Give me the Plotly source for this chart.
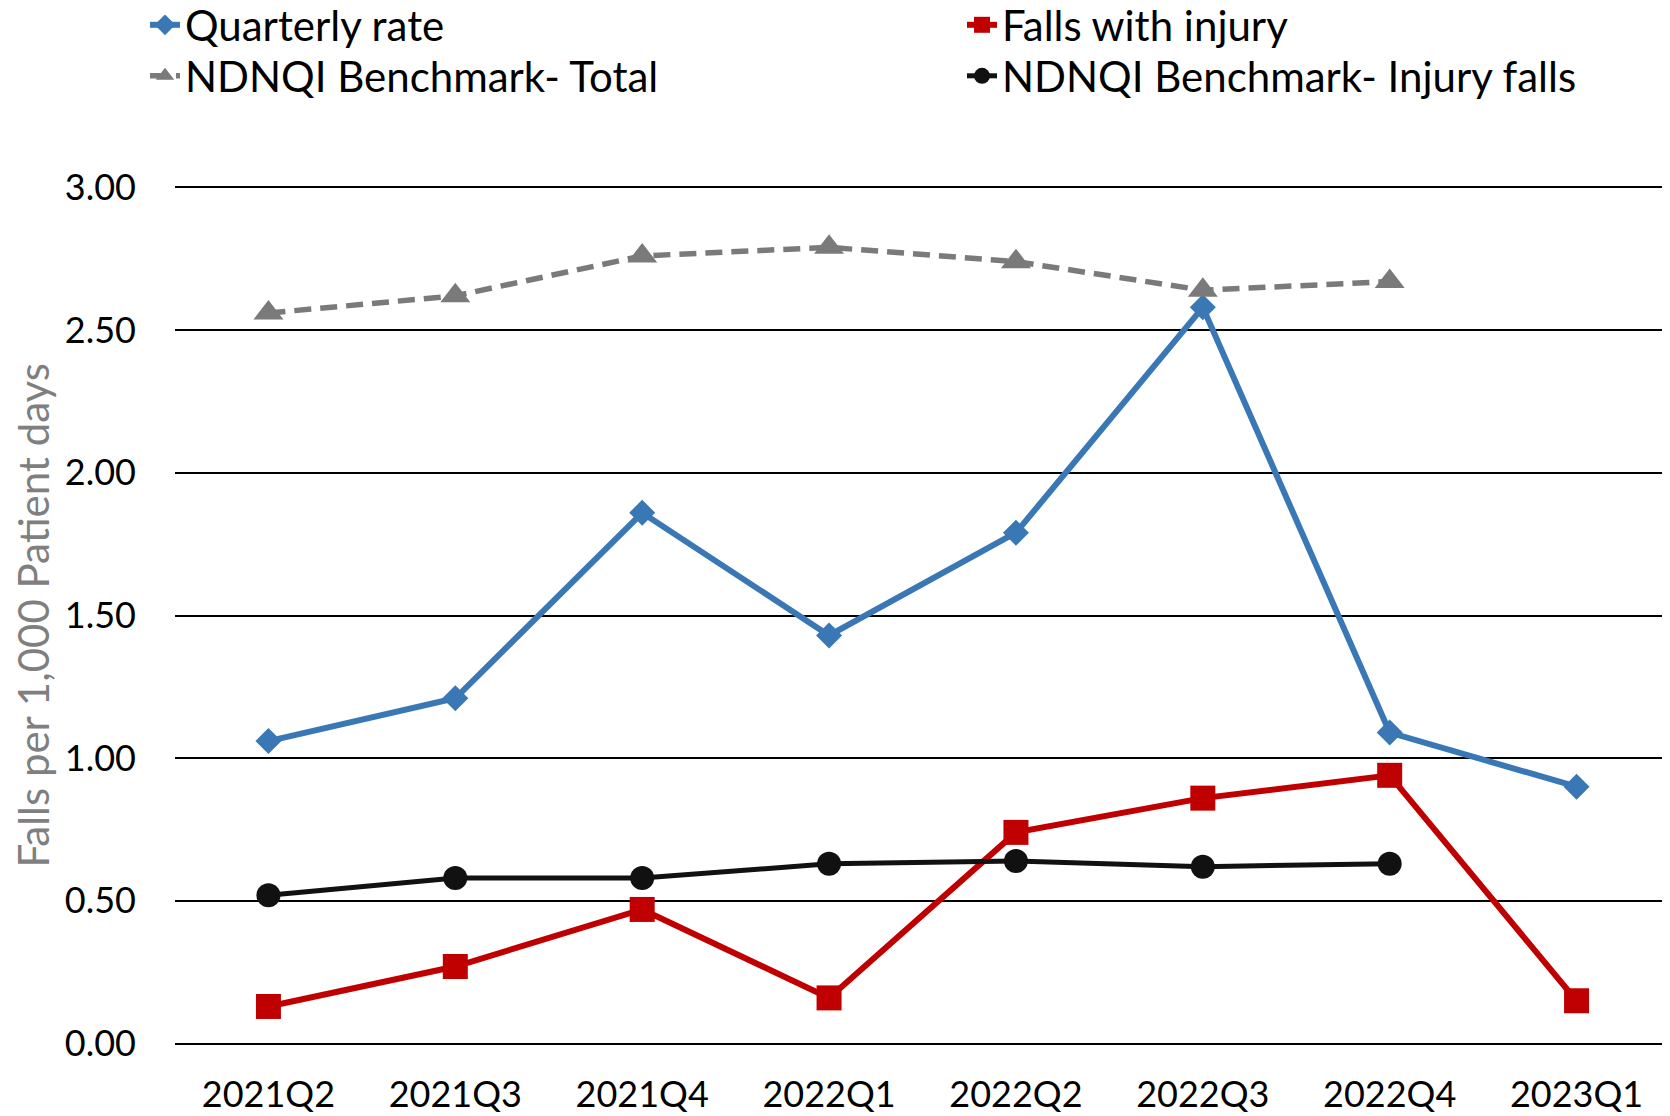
import plotly.graph_objects as go

quarters = ["2021Q2", "2021Q3", "2021Q4", "2022Q1", "2022Q2", "2022Q3", "2022Q4", "2023Q1"]
quarterly_rate = [1.06, 1.21, 1.86, 1.43, 1.79, 2.58, 1.09, 0.90]
falls_with_injury = [0.13, 0.27, 0.47, 0.16, 0.74, 0.86, 0.94, 0.15]
ndnqi_total = [2.56, 2.62, 2.76, 2.79, 2.74, 2.64, 2.67]
ndnqi_injury = [0.52, 0.58, 0.58, 0.63, 0.64, 0.62, 0.63]
y_title = "Falls per 1,000 Patient days"

FONT = "Lato"

fig = go.Figure()
fig.add_trace(go.Scatter(
    x=quarters, y=quarterly_rate, name="Quarterly rate", mode="lines+markers",
    line=dict(color="#3A78B5", width=6),
    marker=dict(symbol="diamond", size=20, color="#3A78B5"),
    legend="legend"))
fig.add_trace(go.Scatter(
    x=quarters, y=falls_with_injury, name="Falls with injury", mode="lines+markers",
    line=dict(color="#C00000", width=6),
    marker=dict(symbol="square", size=25, color="#C00000"),
    legend="legend2"))
fig.add_trace(go.Scatter(
    x=quarters[:len(ndnqi_total)], y=ndnqi_total, name="NDNQI Benchmark- Total",
    mode="lines+markers",
    line=dict(color="#7A7A7A", width=5.5, dash="17px,9px"),
    marker=dict(symbol="triangle-up", size=26, color="#7A7A7A"),
    legend="legend3"))
fig.add_trace(go.Scatter(
    x=quarters[:len(ndnqi_injury)], y=ndnqi_injury, name="NDNQI Benchmark- Injury falls",
    mode="lines+markers",
    line=dict(color="#111111", width=5),
    marker=dict(symbol="circle", size=24, color="#111111"),
    legend="legend4"))

legend_common = dict(
    orientation="v", xref="container", yref="container",
    xanchor="left", yanchor="middle",
    font=dict(family=FONT, size=42, color="#000000"),
    bgcolor="rgba(0,0,0,0)", borderwidth=0,
)

W, H = 1670, 1116
OFF = 8  # page body offset
col1 = (145 - OFF) / W
col2 = (962 - OFF) / W
row1 = 1 - (25 - OFF) / H
row2 = 1 - (76 - OFF) / H

fig.update_layout(
    width=W, height=H,
    paper_bgcolor="white", plot_bgcolor="white",
    margin=dict(l=167, r=8, t=178, b=79, autoexpand=False),
    font=dict(family=FONT, size=36, color="#000000"),
    showlegend=True,
    legend=dict(x=col1, y=row1, **legend_common),
    legend2=dict(x=col2, y=row1, **legend_common),
    legend3=dict(x=col1, y=row2, **legend_common),
    legend4=dict(x=col2, y=row2, **legend_common),
    xaxis=dict(
        type="category", categoryorder="array", categoryarray=quarters,
        range=[-0.5, 7.5], showgrid=False, showline=False, zeroline=False,
        ticks="", tickfont=dict(family=FONT, size=36, color="#000000"),
        tickangle=0, automargin=False,
        ticklabelstandoff=25,
    ),
    yaxis=dict(
        range=[-0.005, 3.005], tickvals=[0, 0.5, 1, 1.5, 2, 2.5, 3], tickformat=".2f",
        showgrid=True, gridcolor="#000000", gridwidth=2.2,
        zeroline=False, showline=False, ticks="", automargin=False,
        tickfont=dict(family=FONT, size=36, color="#000000"),
        ticklabelstandoff=38,
    ),
    annotations=[dict(
        text=y_title, textangle=-90, showarrow=False,
        xref="paper", yref="paper", x=0, y=0.5,
        xanchor="center", yanchor="middle", xshift=-143,
        font=dict(family=FONT, size=42, color="#7F7F7F"),
    )],
)

fig.write_html("out.html")
